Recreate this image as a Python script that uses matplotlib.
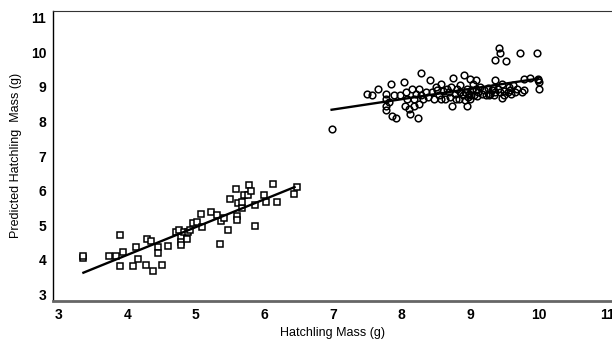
import numpy as np
import matplotlib
matplotlib.use('Agg')
from matplotlib import pyplot as plt

# small hatchlings (squares)
sq_x = [3.36, 3.36, 3.73, 3.83, 3.90, 3.94, 3.90, 4.08, 4.13, 4.15, 4.27, 4.29, 4.35, 4.37,
        4.45, 4.45, 4.51, 4.60, 4.71, 4.76, 4.78, 4.78, 4.79, 4.82, 4.87, 4.89, 4.92, 4.96,
        5.01, 5.08, 5.09, 5.22, 5.31, 5.35, 5.36, 5.41, 5.47, 5.50, 5.58, 5.60, 5.60, 5.62,
        5.67, 5.68, 5.70, 5.76, 5.77, 5.80, 5.87, 5.86, 6.00, 6.02, 6.13, 6.19, 6.43, 6.48]
sq_y = [4.05, 4.10, 4.10, 4.09, 4.71, 4.21, 3.80, 3.80, 4.37, 4.02, 3.83, 4.61, 4.54, 3.66,
        4.35, 4.19, 3.83, 4.40, 4.79, 4.85, 4.66, 4.51, 4.43, 4.80, 4.59, 4.80, 4.85, 5.05,
        5.10, 5.31, 4.95, 5.37, 5.29, 4.44, 5.13, 5.20, 4.87, 5.76, 6.04, 5.26, 5.15, 5.63,
        5.49, 5.68, 5.88, 5.88, 6.17, 6.00, 5.57, 4.97, 5.88, 5.68, 6.20, 5.68, 5.91, 6.10]

# large hatchlings (circles)
ci_x = [6.98, 7.50, 7.57, 7.65, 7.78, 7.78, 7.77, 7.77, 7.84, 7.86, 7.92, 7.89, 7.98, 8.04,
        8.05, 8.06, 8.11, 8.12, 8.15, 8.18, 8.21, 8.24, 8.25, 8.26, 8.28, 8.32, 8.41, 8.44,
        8.47, 8.50, 8.55, 8.58, 8.61, 8.64, 8.67, 8.70, 8.72, 8.74, 8.75, 8.78, 8.81, 8.84,
        8.86, 8.89, 8.91, 8.93, 8.95, 8.96, 8.98, 9.00, 9.00, 9.03, 9.04, 9.06, 9.09, 9.12,
        9.15, 9.20, 9.23, 9.26, 9.29, 9.32, 9.35, 9.37, 9.37, 9.40, 9.42, 9.43, 9.44, 9.46,
        9.47, 9.52, 9.55, 9.57, 9.60, 9.63, 9.66, 9.69, 9.73, 9.76, 9.78, 9.88, 9.97, 9.99,
        10.00, 10.01, 7.82, 8.08, 8.18, 8.29, 8.35, 8.38, 8.52, 8.57, 8.69, 8.79, 8.85, 8.92,
        8.97, 9.02, 9.08, 9.10, 9.17, 9.27, 9.33, 9.36, 9.50, 9.50, 9.58, 9.79, 9.99]
ci_y = [7.78, 8.80, 8.76, 8.95, 8.80, 8.66, 8.46, 8.32, 9.10, 8.17, 8.10, 8.76, 8.76, 9.13,
        8.44, 8.85, 8.37, 8.22, 8.95, 8.66, 8.80, 8.10, 8.51, 8.93, 9.39, 8.66, 9.21, 8.85,
        8.66, 9.00, 8.76, 9.10, 8.87, 8.66, 8.95, 8.71, 9.00, 8.46, 9.27, 8.80, 8.95, 8.66,
        9.05, 8.76, 9.34, 8.61, 8.95, 8.44, 8.80, 9.24, 8.66, 8.90, 9.10, 8.76, 9.19, 8.85,
        9.00, 8.90, 8.76, 8.97, 8.80, 8.90, 8.76, 9.19, 9.78, 8.95, 10.14, 9.99, 8.85, 9.10,
        8.69, 9.75, 8.85, 9.00, 8.80, 9.05, 8.85, 8.95, 9.97, 8.85, 9.24, 9.27, 9.99, 9.24,
        9.15, 8.95, 8.56, 8.66, 8.46, 8.76, 8.85, 8.71, 8.90, 8.66, 8.85, 8.66, 8.85, 8.85,
        8.71, 8.78, 8.95, 8.74, 8.80, 8.76, 8.97, 8.85, 8.87, 8.76, 8.90, 8.90, 9.20]

# fitted lines (end points)
sq_fit_x = [3.36, 6.44]
sq_fit_y = [3.62, 6.10]
ci_fit_x = [6.98, 9.99]
ci_fit_y = [8.34, 9.24]

ticks = [3, 4, 5, 6, 7, 8, 9, 10, 11]

plt.rcParams['font.family'] = ['Liberation Sans', 'DejaVu Sans']
fig = plt.figure(figsize=(6.12, 3.44), dpi=100)
ax = fig.add_axes([0.087, 0.126, 0.913, 0.843])

ax.plot(sq_x, sq_y, 's', ms=4.6, mfc='white', mec='black', mew=1.1, ls='none')
ax.plot(ci_x, ci_y, 'o', ms=4.8, mfc='none', mec='black', mew=1.1, ls='none')
ax.plot(sq_fit_x, sq_fit_y, color='black', lw=1.7)
ax.plot(ci_fit_x, ci_fit_y, color='black', lw=1.7)

ax.set_xlim(2.92, 11.07)
ax.set_ylim(2.81, 11.21)
ax.set_xticks(ticks)
ax.set_yticks(ticks)
ax.tick_params(length=0, labelsize=10, pad=5)
for lab in ax.get_xticklabels() + ax.get_yticklabels():
    lab.set_fontweight('bold')

ax.spines['right'].set_visible(False)
ax.spines['top'].set_linestyle((0, (1, 1)))
ax.spines['top'].set_linewidth(0.8)
ax.spines['top'].set_color('#333333')
ax.spines['bottom'].set_color('#666666')
ax.spines['bottom'].set_linewidth(2)
ax.spines['left'].set_linewidth(1)

ax.set_xlabel('Hatchling Mass (g)', fontsize=9, labelpad=4)
ax.set_ylabel('Predicted Hatchling  Mass (g)', fontsize=9, labelpad=6)

fig.savefig('out.png', dpi=100)
